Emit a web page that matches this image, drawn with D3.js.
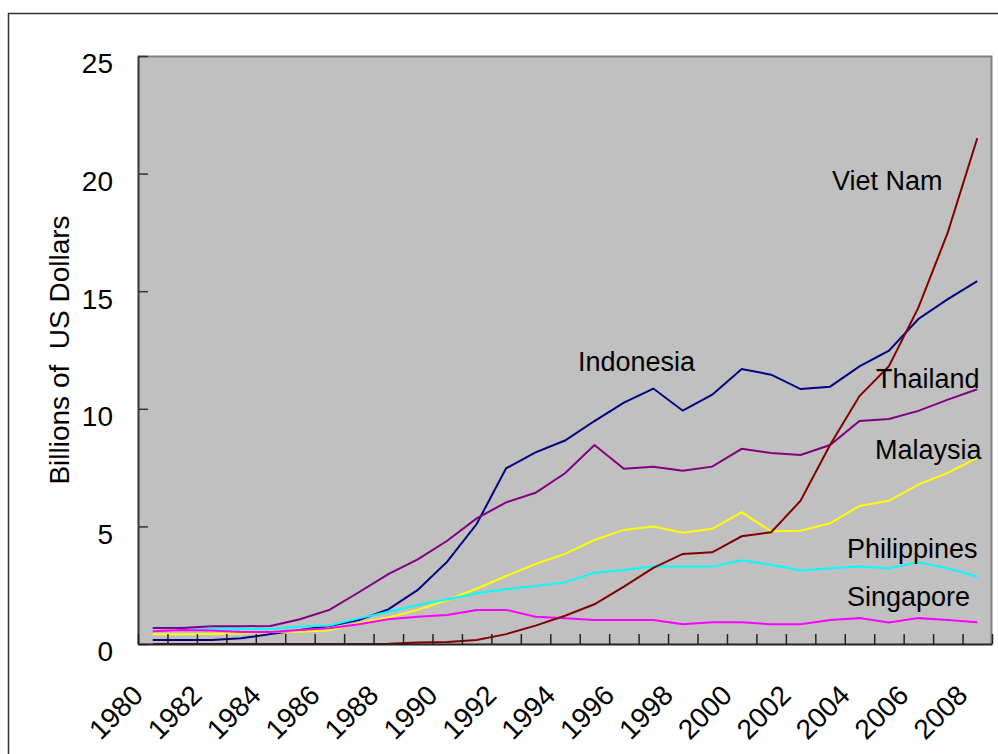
<!DOCTYPE html>
<html>
<head>
<meta charset="utf-8">
<script src="https://cdn.jsdelivr.net/npm/d3@7"></script>
<style>
  html, body { margin: 0; padding: 0; background: #ffffff; }
  svg { display: block; font-family: "Liberation Sans", Arial, sans-serif; }
</style>
</head>
<body>
<svg id="chart" width="998" height="754"></svg>
<script>
// ---- data ----
const years = d3.range(1980, 2009);
const seriesNames = ["Indonesia", "Malaysia", "Philippines", "Singapore", "Thailand", "Viet Nam"];
const indonesia = [0.17,0.17,0.17,0.24,0.42,0.6,0.77,1.02,1.47,2.3,3.5,5.1,7.47,8.15,8.65,9.48,10.26,10.86,9.92,10.6,11.69,11.45,10.84,10.94,11.8,12.47,13.82,14.66,15.43];
const malaysia = [0.41,0.41,0.43,0.45,0.52,0.52,0.58,0.88,1.13,1.45,1.87,2.35,2.89,3.4,3.83,4.42,4.85,5.0,4.73,4.9,5.6,4.79,4.82,5.13,5.87,6.09,6.78,7.28,7.91];
const philippines = [0.69,0.69,0.67,0.64,0.64,0.74,0.79,1.09,1.37,1.66,1.9,2.16,2.33,2.47,2.62,3.03,3.15,3.29,3.29,3.29,3.56,3.37,3.13,3.22,3.3,3.22,3.47,3.22,2.86];
const singapore = [0.54,0.6,0.57,0.51,0.51,0.6,0.67,0.84,1.05,1.16,1.23,1.45,1.45,1.16,1.09,1.02,1.02,1.02,0.84,0.92,0.92,0.84,0.84,1.02,1.1,0.91,1.1,1.02,0.92];
const thailand = [0.68,0.68,0.75,0.75,0.77,1.05,1.45,2.2,2.97,3.6,4.39,5.34,6.02,6.43,7.26,8.46,7.45,7.54,7.37,7.54,8.3,8.12,8.04,8.46,9.48,9.57,9.91,10.39,10.83];
const vietnam = [0,0,0,0,0,0,0,0,0.01,0.06,0.09,0.17,0.42,0.78,1.2,1.69,2.44,3.24,3.83,3.9,4.58,4.75,6.09,8.46,10.54,11.81,14.3,17.5,21.5];
const seriesColors = ["#000080", "#FFFF00", "#00FFFF", "#FF00FF", "#800080", "#800000"];
const yTickValues = [0, 5, 10, 15, 20, 25];
const yTitle = "Billions of  US Dollars";

const seriesValues = [indonesia, malaysia, philippines, singapore, thailand, vietnam];

// ---- layout ----
const svg = d3.select("#chart");
const plot = { left: 138, right: 992, top: 56, bottom: 644 };
const FONT = 28;

// outer frame
svg.append("rect")
  .attr("x", 8.5).attr("y", 13.5).attr("width", 1000).attr("height", 800)
  .attr("fill", "#ffffff").attr("stroke", "#333333").attr("stroke-width", 1.5);

const x = d3.scaleBand().domain(years).range([plot.left, plot.right]).padding(0);
const xIdx = d3.scaleLinear().domain([0, years.length]).range([plot.left, plot.right]);
const y = d3.scaleLinear().domain([0, 25]).range([plot.bottom, plot.top]);

// plot background
svg.append("rect")
  .attr("x", plot.left).attr("y", plot.top)
  .attr("width", plot.right - plot.left).attr("height", plot.bottom - plot.top)
  .attr("fill", "#C0C0C0");
// top and right border (gray)
svg.append("path")
  .attr("d", `M${plot.left},${plot.top + 0.5}H${plot.right - 0.5}V${plot.bottom}`)
  .attr("fill", "none").attr("stroke", "#808080").attr("stroke-width", 2);

// series lines
const line = d3.line()
  .x((d, i) => x(years[i]) + x.bandwidth() / 2)
  .y(d => y(d));

const g = svg.append("g");
seriesValues.forEach((vals, k) => {
  g.append("path")
    .datum(vals)
    .attr("d", line)
    .attr("fill", "none")
    .attr("stroke", seriesColors[k])
    .attr("stroke-width", 2)
    .attr("stroke-linejoin", "miter");
});

// y axis
const yAxis = svg.append("g")
  .attr("transform", `translate(${plot.left},0)`)
  .call(d3.axisLeft(y).tickValues(yTickValues).tickSizeInner(-10).tickSizeOuter(0).tickPadding(25));
yAxis.select(".domain").attr("stroke", "#333").attr("stroke-width", 2);
yAxis.selectAll(".tick line").attr("stroke", "#333").attr("stroke-width", 1.5);
yAxis.selectAll(".tick text")
  .attr("font-size", FONT).attr("font-family", "'Liberation Sans', Arial, sans-serif")
  .attr("fill", "#000").attr("dy", "0.6em");

// x axis boundary ticks
const xTicks = svg.append("g")
  .attr("transform", `translate(0,${plot.bottom})`)
  .call(d3.axisBottom(xIdx).tickValues(d3.range(0, years.length + 1)).tickSizeInner(-10).tickSizeOuter(0).tickFormat(""));
xTicks.select(".domain").attr("stroke", "#222").attr("stroke-width", 2);
xTicks.selectAll(".tick line").attr("stroke", "#222").attr("stroke-width", 1.5);

// x axis labels
const xLab = svg.append("g")
  .attr("transform", `translate(0,${plot.bottom})`)
  .call(d3.axisBottom(x).tickSize(0).tickFormat(d => (d % 2 === 0 ? d : "")));
xLab.select(".domain").remove();
xLab.selectAll(".tick text")
  .attr("font-size", FONT).attr("font-family", "'Liberation Sans', Arial, sans-serif")
  .attr("fill", "#000")
  .attr("text-anchor", "end")
  .attr("x", 0).attr("y", 0).attr("dy", 0)
  .attr("transform", "translate(-8,53) rotate(-45)");

// y axis title
svg.append("text")
  .attr("transform", "translate(69,350) rotate(-90)")
  .attr("text-anchor", "middle")
  .attr("font-size", FONT)
  .attr("fill", "#000")
  .style("white-space", "pre")
  .text(yTitle);

// series labels
const labelPos = {
  "Viet Nam": [832, 190],
  "Indonesia": [578, 371],
  "Thailand": [876, 388],
  "Malaysia": [875, 459],
  "Philippines": [847, 558],
  "Singapore": [847, 606]
};
seriesNames.forEach(n => {
  svg.append("text")
    .attr("x", labelPos[n][0]).attr("y", labelPos[n][1])
    .attr("font-size", 27)
    .attr("fill", "#000")
    .text(n);
});
</script>
</body>
</html>
